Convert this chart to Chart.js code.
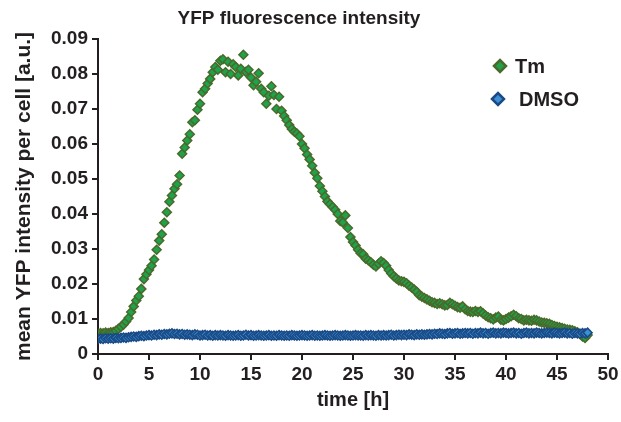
<!DOCTYPE html>
<html><head><meta charset="utf-8">
<script src="https://cdn.jsdelivr.net/npm/chart.js@4/dist/chart.umd.min.js"></script>
<style>html,body{margin:0;padding:0;background:#fff;}#wrap{width:621px;height:422px;}</style>
</head><body><div id="wrap"><canvas id="c" width="621" height="422"></canvas></div>
<script>
const chartTitle = 'YFP fluorescence intensity';
const xAxisTitle = 'time [h]';
const yAxisTitle = 'mean YFP intensity per cell [a.u.]';
const seriesNames = ['Tm', 'DMSO'];
const xTickLabels = ['0','5','10','15','20','25','30','35','40','45','50'];
const yTickLabels = ['0','0.01','0.02','0.03','0.04','0.05','0.06','0.07','0.08','0.09'];

const timeHours = [
0,0.25,0.5,0.75,1,1.25,1.5,1.75,2,2.25,2.5,2.75,3,3.25,3.5,3.75,4,4.25,4.5,4.75,5,5.25,5.5,5.75,6,6.25,6.5,6.75,7,7.25,7.5,7.75,8,
8.25,8.5,8.75,9,9.25,9.5,9.75,10,10.25,10.5,10.75,11,11.25,11.5,11.75,12,12.25,12.5,12.75,13,13.25,13.5,13.75,14,14.25,14.5,14.75,15,15.25,15.5,15.75,16,
16.25,16.5,16.75,17,17.25,17.5,17.75,18,18.25,18.5,18.75,19,19.25,19.5,19.75,20,20.25,20.5,20.75,21,21.25,21.5,21.75,22,22.25,22.5,22.75,23,23.25,23.5,23.75,24,
24.25,24.5,24.75,25,25.25,25.5,25.75,26,26.25,26.5,26.75,27,27.25,27.5,27.75,28,28.25,28.5,28.75,29,29.25,29.5,29.75,30,30.25,30.5,30.75,31,31.25,31.5,31.75,32,
32.25,32.5,32.75,33,33.25,33.5,33.75,34,34.25,34.5,34.75,35,35.25,35.5,35.75,36,36.25,36.5,36.75,37,37.25,37.5,37.75,38,38.25,38.5,38.75,39,39.25,39.5,39.75,40,
40.25,40.5,40.75,41,41.25,41.5,41.75,42,42.25,42.5,42.75,43,43.25,43.5,43.75,44,44.25,44.5,44.75,45,45.25,45.5,45.75,46,46.25,46.5,46.75,47,47.25,47.5,47.75,48
];

const tmValues = [
0.0058,
0.0060,0.0059,0.0061,0.0060,0.0062,0.0063,0.0066,0.0072,
0.0078,0.0084,0.0093,0.0103,0.0120,0.0136,0.0153,0.0165,
0.0186,0.0214,0.0228,0.0240,0.0252,0.0270,0.0298,0.0324,
0.0342,0.0375,0.0405,0.0435,0.0453,0.0472,0.0485,0.0510,
0.0572,0.0590,0.0610,0.0628,0.0662,0.0668,0.0698,0.0715,
0.0748,0.0758,0.0773,0.0786,0.0805,0.0820,0.0812,0.0838,
0.0842,0.0805,0.0835,0.0800,0.0828,0.0820,0.0796,0.0815,
0.0855,0.0806,0.0812,0.0790,0.0768,0.0778,0.0802,0.0758,
0.0748,0.0715,0.0738,0.0765,0.0740,0.0700,0.0735,0.0695,
0.0680,0.0668,0.0654,0.0643,0.0635,0.0630,0.0622,0.0600,
0.0588,0.0570,0.0556,0.0538,0.0518,0.0502,0.0480,0.0465,
0.0450,0.0436,0.0428,0.0420,0.0412,0.0400,0.0380,0.0376,
0.0396,0.0360,0.0334,0.0320,0.0310,0.0298,0.0288,0.0285,
0.0272,0.0268,0.0262,0.0255,0.0250,0.0258,0.0265,0.0260,
0.0252,0.0240,0.0230,0.0222,0.0216,0.0210,0.0208,0.0206,
0.0202,0.0195,0.0190,0.0184,0.0178,0.0168,0.0164,0.0160,
0.0156,0.0152,0.0148,0.0146,0.0143,0.0145,0.0142,0.0139,
0.0140,0.0146,0.0142,0.0138,0.0134,0.0132,0.0136,0.0128,
0.0123,0.0121,0.0120,0.0123,0.0120,0.0122,0.0116,0.0110,
0.0105,0.0102,0.0099,0.0104,0.0107,0.0098,0.0096,0.0100,
0.0104,0.0108,0.0112,0.0108,0.0102,0.0100,0.0096,0.0098,
0.0096,0.0095,0.0098,0.0096,0.0093,0.0090,0.0089,0.0088,
0.0086,0.0083,0.0080,0.0078,0.0076,0.0074,0.0072,0.0070,
0.0069,0.0068,0.0065,0.0062,0.0058,0.0050,0.0046,0.0054
];

const dmsoValues = [
0.0043,0.0044,0.0043,0.0045,0.0044,0.0045,0.0044,0.0046,0.0045,
0.0046,0.0047,0.0046,0.0048,0.0049,0.0050,0.0049,0.0051,0.0052,0.0051,0.0053,0.0054,
0.0053,0.0055,0.0054,0.0056,0.0055,0.0057,0.0056,0.0058,0.0059,0.0057,0.0058,0.0056,
0.0057,0.0055,0.0056,0.0055,0.0054,0.0056,0.0055,0.0053,0.0054,0.0055,0.0053,0.0054,0.0052,0.0054,0.0053,0.0054,
0.0053,0.0052,0.0054,0.0053,0.0052,0.0053,0.0054,0.0052,0.0053,0.0055,0.0053,0.0054,0.0052,0.0053,0.0054,0.0053,
0.0052,0.0053,0.0054,0.0052,0.0053,0.0052,0.0054,0.0053,0.0052,0.0053,0.0052,0.0054,0.0053,0.0052,0.0053,0.0054,
0.0053,0.0052,0.0053,0.0054,0.0052,0.0053,0.0052,0.0053,0.0054,0.0053,0.0052,0.0053,0.0054,0.0053,0.0052,0.0053,
0.0054,0.0053,0.0052,0.0053,0.0054,0.0053,0.0053,0.0052,0.0054,0.0053,0.0054,0.0053,0.0052,0.0054,0.0053,0.0054,
0.0053,0.0054,0.0055,0.0053,0.0054,0.0055,0.0054,0.0055,0.0054,0.0056,0.0055,0.0054,0.0056,0.0055,0.0056,0.0055,
0.0056,0.0057,0.0056,0.0058,0.0057,0.0059,0.0058,0.0057,0.0059,0.0060,0.0058,0.0059,0.0060,0.0058,0.0059,0.0060,
0.0059,0.0060,0.0058,0.0060,0.0059,0.0061,0.0059,0.0060,0.0058,0.0060,0.0061,0.0059,0.0060,0.0059,0.0061,0.0060,
0.0059,0.0060,0.0061,0.0059,0.0060,0.0058,0.0060,0.0061,0.0059,0.0060,0.0059,0.0061,0.0060,0.0059,0.0060,0.0061,
0.0060,0.0059,0.0061,0.0060,0.0059,0.0060,0.0061,0.0059,0.0060,0.0058,0.0060,0.0059,0.0058,0.0060,0.0059,0.0061
];

const FONT = '"Liberation Sans", Arial, sans-serif';
const TEXT = '#231f20';
const tmStyle = { fill: '#1ea24c', border: '#4a6a2a' };
const dmsoStyle = { fill: '#3d8fd6', border: '#1a4a85' };

const toPoints = (xs, ys) => ys.map((y, i) => ({ x: xs[i], y: y }));

const overlayPlugin = {
  id: 'overlay',
  afterDraw(chart) {
    const ctx = chart.ctx;
    ctx.save();
    ctx.fillStyle = TEXT;
    ctx.font = 'bold 19px ' + FONT;
    ctx.textAlign = 'center';
    ctx.textBaseline = 'middle';
    ctx.fillText(chartTitle, 299, 19);
    const items = [
      { name: seriesNames[0], st: tmStyle, mx: 500, my: 66, tx: 515, ty: 67 },
      { name: seriesNames[1], st: dmsoStyle, mx: 498, my: 99, tx: 519, ty: 100 }
    ];
    ctx.font = 'bold 20px ' + FONT;
    ctx.textAlign = 'left';
    items.forEach(it => {
      ctx.fillStyle = it.st.fill;
      ctx.strokeStyle = it.st.border;
      ctx.lineWidth = 2.5;
      Chart.helpers.drawPoint(ctx, { pointStyle: 'rectRot', radius: 6, borderWidth: 2.5, rotation: 0 }, it.mx, it.my);
      ctx.fillStyle = TEXT;
      ctx.fillText(it.name, it.tx, it.ty);
    });
    ctx.restore();
  }
};

const axisCommon = {
  grid: { display: true, drawOnChartArea: false, drawTicks: true, tickLength: 6, color: TEXT, lineWidth: 2 },
  border: { display: true, color: TEXT, width: 2 }
};

new Chart(document.getElementById('c'), {
  type: 'scatter',
  data: {
    datasets: [
      {
        label: seriesNames[1],
        data: toPoints(timeHours, dmsoValues),
        order: 0,
        pointStyle: 'rectRot',
        pointRadius: 4.5,
        pointBorderWidth: 1.5,
        backgroundColor: dmsoStyle.fill,
        borderColor: dmsoStyle.border,
        showLine: false
      },
      {
        label: seriesNames[0],
        data: toPoints(timeHours, tmValues),
        order: 1,
        pointStyle: 'rectRot',
        pointRadius: 4.5,
        pointBorderWidth: 1.5,
        backgroundColor: tmStyle.fill,
        borderColor: tmStyle.border,
        showLine: false
      }
    ]
  },
  options: {
    responsive: false,
    animation: false,
    devicePixelRatio: 1,
    layout: { padding: { top: 39, right: 13, bottom: 0, left: 0 } },
    plugins: { legend: { display: false }, title: { display: false }, tooltip: { enabled: false } },
    scales: {
      x: Object.assign({}, axisCommon, {
        type: 'linear', min: 0, max: 50,
        afterBuildTicks: s => { s.ticks = xTickLabels.map(l => ({ value: parseFloat(l) })); },
        afterFit: s => { s.height = 68; s.paddingLeft = 0; s.paddingRight = 0; },
        ticks: { padding: 3, color: TEXT, font: { family: FONT, size: 19, weight: 'bold' },
                 callback: (v, i) => xTickLabels[i], maxRotation: 0, autoSkip: false },
        title: { display: true, text: xAxisTitle, color: TEXT, font: { family: FONT, size: 20, weight: 'bold' }, padding: { top: 0, bottom: 10 } }
      }),
      y: Object.assign({}, axisCommon, {
        type: 'linear', min: 0, max: 0.09,
        afterBuildTicks: s => { s.ticks = yTickLabels.map(l => ({ value: parseFloat(l) })); },
        afterFit: s => { s.width = 98; s.paddingTop = 0; s.paddingBottom = 0; },
        ticks: { padding: 4, color: TEXT, font: { family: FONT, size: 19, weight: 'bold' },
                 callback: (v, i) => yTickLabels[i], autoSkip: false },
        title: { display: true, text: yAxisTitle, color: TEXT, font: { family: FONT, size: 21, weight: 'bold' }, padding: { top: 12, bottom: 0 } }
      })
    }
  },
  plugins: [overlayPlugin]
});
</script></body></html>
